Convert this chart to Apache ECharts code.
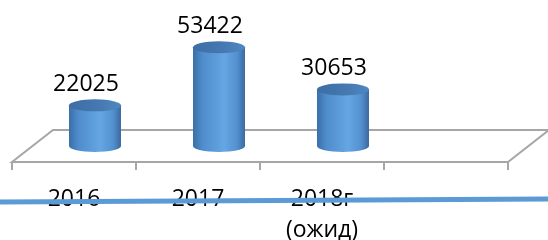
<!DOCTYPE html>
<html>
<head>
<meta charset="utf-8">
<script src="https://cdn.jsdelivr.net/npm/echarts@6/dist/echarts.min.js"></script>
<style>
  html, body { margin: 0; padding: 0; background: #fff; }
  #chart { width: 548px; height: 240px; }
</style>
</head>
<body>
<div id="chart"></div>
<script>
// данные
const categories = ['2016', '2017', '2018г\n(ожид)', ''];
const values = [22025, 53422, 30653, null];

const FONT = 'Open Sans';
const BAR_W = 52;
const CAP_H = 12;
// глубина "пола" псевдо-3D
const DEPTH_Y = 16;
const DX_FRONT = 21;
const DX_BACK = 20;

const bodyColor = new echarts.graphic.LinearGradient(0, 0, 1, 0, [
  { offset: 0, color: '#3b6fa8' },
  { offset: 0.18, color: '#4f8ccb' },
  { offset: 0.6, color: '#65a6e3' },
  { offset: 0.85, color: '#5390cf' },
  { offset: 1, color: '#3a6aa0' },
]);
const capColor = new echarts.graphic.LinearGradient(0, 0, 1, 0, [
  { offset: 0, color: '#3d6ea4' },
  { offset: 0.6, color: '#4679b2' },
  { offset: 1, color: '#5088c2' },
]);

let myChart = echarts.init(document.getElementById('chart'));
let option = {
  animation: false,
  grid: { left: 33, right: 19, top: 35, bottom: 94, outerBoundsMode: 'none', containLabel: false },
  xAxis: {
    type: 'category',
    data: categories,
    axisLine: { show: false },
    axisTick: { show: false },
    axisLabel: {
      interval: 0,
      fontFamily: FONT,
      fontSize: 23,
      lineHeight: 31,
      color: '#000',
      margin: 38,
      padding: [0, DX_FRONT * 2, 0, 0],
    },
  },
  yAxis: {
    type: 'value',
    min: 0,
    max: 60000,
    show: false,
  },
  graphic: [
    {
      type: 'line',
      z: 100,
      shape: { x1: 0, y1: 202, x2: 548, y2: 199 },
      style: { stroke: '#5b9bd5', lineWidth: 5 },
    },
  ],
  series: [
    {
      // пол диаграммы
      type: 'custom',
      silent: true,
      z: 1,
      data: [[0, 0]],
      renderItem(params, api) {
        const p0 = api.coord([0, 0]);
        const band = api.size([1, 0])[0];
        const left = p0[0] - band / 2;
        const right = left + band * categories.length;
        const fy = p0[1] + DEPTH_Y;
        const by = p0[1] - DEPTH_Y;
        const stroke = { stroke: '#a6a6a6', lineWidth: 2, fill: null };
        const children = [
          {
            type: 'polygon',
            shape: {
              points: [
                [left - DX_FRONT, fy],
                [left + DX_BACK, by],
                [right + DX_BACK, by],
                [right - DX_FRONT, fy],
              ],
            },
            style: stroke,
          },
        ];
        for (let i = 0; i <= categories.length; i++) {
          const x = left - DX_FRONT + band * i;
          children.push({
            type: 'line',
            shape: { x1: x, y1: fy, x2: x, y2: fy + 8 },
            style: stroke,
          });
        }
        return { type: 'group', children };
      },
    },
    {
      // нижнее основание цилиндра
      type: 'pictorialBar',
      symbol: 'circle',
      symbolSize: [BAR_W, CAP_H],
      symbolOffset: [0, '50%'],
      z: 2,
      data: values,
      itemStyle: { color: bodyColor },
    },
    {
      type: 'bar',
      barWidth: BAR_W,
      z: 3,
      data: values,
      itemStyle: { color: bodyColor },
      label: {
        show: true,
        position: 'top',
        distance: 9,
        offset: [-9, 0],
        fontFamily: FONT,
        fontSize: 23,
        lineHeight: 23,
        color: '#000',
      },
    },
    {
      // верхняя крышка
      type: 'pictorialBar',
      symbol: 'circle',
      symbolSize: [BAR_W, CAP_H],
      symbolPosition: 'end',
      symbolOffset: [0, '-50%'],
      z: 4,
      data: values,
      itemStyle: { color: capColor, borderColor: '#3a6698', borderWidth: 0.5 },
    },
  ],
};
myChart.setOption(option);
</script>
</body>
</html>
